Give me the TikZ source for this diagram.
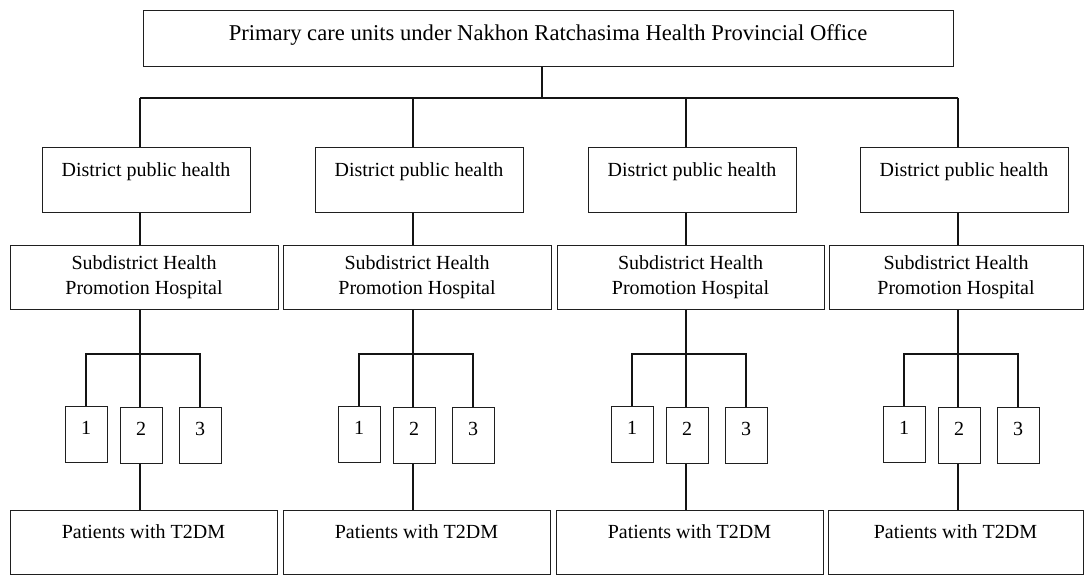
\documentclass[tikz,border=0pt]{standalone}
\usepackage{fontspec}
\setmainfont{Liberation Serif}
\begin{document}
\begin{tikzpicture}[x=1pt,y=-1pt,
  box/.style={draw=black!88, line width=1pt, inner sep=0pt, font=\fontsize{20}{25}\selectfont, align=center},
  distbox/.style={box, minimum width=208pt, minimum height=64pt, text height=14pt, text depth=21pt},
  subbox/.style={box, minimum height=64pt},
  patbox/.style={box, minimum height=64pt, text height=14pt, text depth=21pt},
  smallbox/.style={box, minimum width=42pt, minimum height=56pt, text height=10pt, text depth=10pt},
  conn/.style={line width=1.6pt, draw=black!92}]
\useasboundingbox (0,0) rectangle (1084,575);
\node[box, font=\fontsize{22.6}{27}\selectfont, minimum width=810pt, minimum height=56pt, text height=16pt, text depth=12pt] (top) at (548,39)
  {Primary care units under Nakhon Ratchasima Health Provincial Office};
\coordinate (tb) at (542,98);
\draw[conn] (top.south -| tb) -- (tb);
\foreach \i/\c/\sx/\sw/\px/\pw in {1/140/144/268/143.5/267, 2/413/417/268/416.5/267, 3/686/690.5/267/689.5/267, 4/958/956/254/955.5/255}{
  \coordinate (b\i) at (\c,98);
  \coordinate (m\i) at (\c,354);
  \node[distbox] (d\i) at (\c+6,180) {District public health};
  \node[subbox, minimum width=\sw pt] (s\i) at (\sx,277) {Subdistrict Health\\Promotion Hospital};
  \node[patbox, minimum width=\pw pt] (p\i) at (\px,542) {Patients with T2DM};
  \node[smallbox] (n\i a) at (\c-54,434) {1};
  \node[smallbox] (n\i b) at (\c+1,435) {2};
  \node[smallbox] (n\i c) at (\c+60,435) {3};
  \draw[conn] (b\i) -- (b\i |- d\i.north);
  \draw[conn] (d\i.south -| b\i) -- (s\i.north -| b\i);
  \draw[conn] (s\i.south -| b\i) -- (m\i);
  \draw[conn] (n\i a.north) |- (m\i) -| (n\i c.north);
  \draw[conn] (m\i) -- (m\i |- n\i b.north);
  \draw[conn] (n\i b.south -| m\i) -- (p\i.north -| m\i);
}
\draw[conn] (b1) -- (b4);
\end{tikzpicture}
\end{document}
